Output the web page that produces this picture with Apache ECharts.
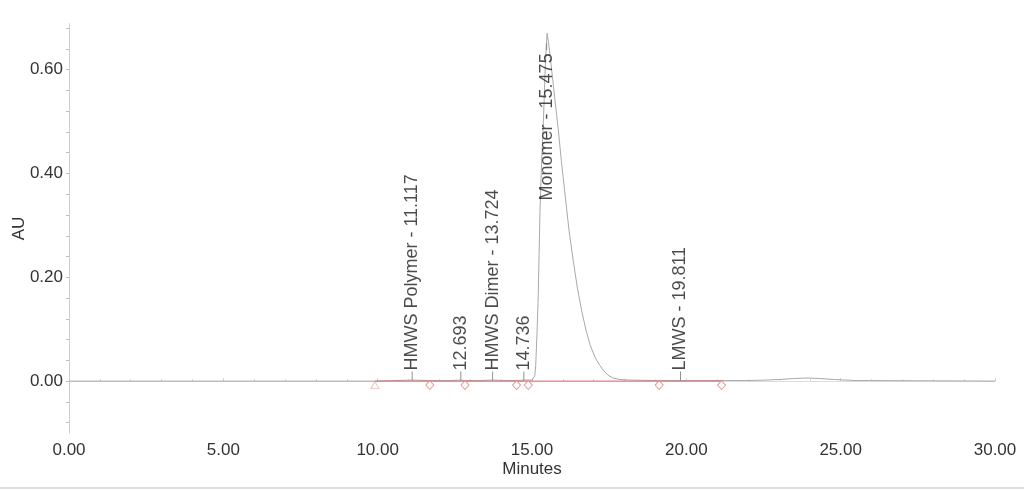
<!DOCTYPE html>
<html>
<head>
<meta charset="utf-8">
<script src="https://cdn.jsdelivr.net/npm/echarts@6/dist/echarts.min.js"></script>
<style>
html,body{margin:0;padding:0;background:#fff;}
#chart{width:1024px;height:490px;}
</style>
</head>
<body>
<div id="chart"></div>
<script>
// Chromatogram trace (minutes, AU)
const traceTimes = [0, 5, 9, 9.91, 10.5, 11.117, 11.69, 12.3, 12.693, 12.83, 13.3, 13.724, 14.2, 14.5, 14.736, 14.88, 15.0, 15.06, 15.09, 15.12, 15.16, 15.2, 15.26, 15.31, 15.37, 15.42, 15.46, 15.49, 15.53, 15.6, 15.7, 15.85, 15.95, 16.07, 16.2, 16.34, 16.47, 16.61, 16.75, 16.88, 17.05, 17.2, 17.31, 17.45, 17.62, 17.85, 18.2, 19.0, 20.0, 21.0, 22.0, 22.6, 23.0, 23.5, 23.9, 24.3, 24.8, 25.5, 26.0, 30.0];
const traceValues = [0, 0, 0, 0, 0.001, 0.002, 0.001, 0.001, 0.002, 0.001, 0.001, 0.002, 0.001, 0.001, 0.002, 0.002, 0.002, 0.004, 0.010, 0.030, 0.090, 0.160, 0.330, 0.420, 0.500, 0.590, 0.645, 0.670, 0.655, 0.620, 0.565, 0.485, 0.425, 0.360, 0.290, 0.230, 0.180, 0.135, 0.098, 0.070, 0.045, 0.030, 0.021, 0.012, 0.006, 0.003, 0.002, 0.001, 0.001, 0.001, 0.001, 0.002, 0.003, 0.005, 0.006, 0.005, 0.003, 0.001, 0.001, 0];

// Peak labels
const peakNames = ['HMWS Polymer', '', 'HMWS Dimer', '', 'Monomer', 'LMWS'];
const peakTimes = [11.117, 12.693, 13.724, 14.736, 15.475, 19.811];
const peakApex = [0.002, 0.002, 0.002, 0.002, 0.669, 0.001];

// Integration baseline marks
const baselineStart = [9.91];
const baselineMarks = [11.69, 12.83, 14.50, 14.88, 19.12, 21.14];

// Axis ticks
const yLabelValues = [0, 0.2, 0.4, 0.6];
const yTickValues = [-0.08, -0.04, 0, 0.04, 0.08, 0.12, 0.16, 0.2, 0.24, 0.28, 0.32, 0.36, 0.4, 0.44, 0.48, 0.52, 0.56, 0.6, 0.64, 0.68];

const FONT = 'Liberation Sans, Arial, sans-serif';
const trace = traceTimes.map((t, i) => [t, traceValues[i]]);
const fmtLabel = i => (peakNames[i] ? peakNames[i] + ' - ' : '') + peakTimes[i].toFixed(3);

const smallIdx = peakTimes.map((t, i) => i).filter(i => peakApex[i] < 0.1);
const bigIdx = peakTimes.map((t, i) => i).filter(i => peakApex[i] >= 0.1);

const chart = echarts.init(document.getElementById('chart'), null, {renderer: 'canvas'});
chart.setOption({
  animation: false,
  backgroundColor: '#fff',
  grid: {left: 69, right: 29, top: 24, bottom: 57, containLabel: false, outerBoundsMode: 'none'},
  xAxis: [{
    type: 'value', min: 0, max: 30, interval: 5,
    name: 'Minutes', nameLocation: 'middle', nameGap: 28, nameMoveOverlap: false,
    nameTextStyle: {fontFamily: FONT, fontSize: 17, color: '#333'},
    axisLine: {show: true, lineStyle: {color: '#ececec', width: 1}},
    axisTick: {show: true, inside: true, length: 3, lineStyle: {color: '#cfcfcf'}},
    minorTick: {show: true, splitNumber: 5, length: 2, lineStyle: {color: '#d8d8d8'}},
    splitLine: {show: false},
    axisLabel: {fontFamily: FONT, fontSize: 17, color: '#333', margin: 9, formatter: v => v.toFixed(2)}
  }, {
    type: 'value', min: 0, max: 30, position: 'top',
    axisLine: {show: true, lineStyle: {color: '#dddddd'}},
    axisTick: {show: false}, axisLabel: {show: false}, splitLine: {show: false}
  }],
  yAxis: [{
    type: 'value', min: -0.1, max: 0.688,
    name: 'AU', nameLocation: 'middle', nameGap: 41, nameRotate: 90, nameMoveOverlap: false,
    nameTextStyle: {fontFamily: FONT, fontSize: 17, color: '#333'},
    axisLine: {show: true, lineStyle: {color: '#c8c8c8'}},
    axisTick: {show: true, length: 3, customValues: yTickValues, lineStyle: {color: '#bdbdbd'}},
    splitLine: {show: false},
    axisLabel: {fontFamily: FONT, fontSize: 17, color: '#333', margin: 6, customValues: yLabelValues, formatter: v => v.toFixed(2)}
  }, {
    type: 'value', min: -0.1, max: 0.688, position: 'right',
    axisLine: {show: true, lineStyle: {color: '#cfcfcf'}},
    axisTick: {show: false}, axisLabel: {show: false}, splitLine: {show: false}
  }],
  series: [
    {
      type: 'line', data: trace, showSymbol: false, symbol: 'none',
      lineStyle: {color: '#a9a9a9', width: 1}, z: 2
    },
    {
      type: 'line', data: [[baselineStart[0], 0], [baselineMarks[baselineMarks.length - 1], 0]],
      showSymbol: false, symbol: 'none', lineStyle: {color: '#e06a6a', width: 1}, z: 3
    },
    {
      type: 'scatter', data: baselineMarks.map(t => [t, 0]),
      symbol: 'diamond', symbolSize: [8, 9], symbolOffset: [0, 4],
      itemStyle: {color: '#ffffff', borderColor: '#e58080', borderWidth: 1}, z: 4
    },
    {
      type: 'scatter', data: baselineStart.map(t => [t, 0]),
      symbol: 'triangle', symbolSize: [8, 7], symbolOffset: [0, 4],
      itemStyle: {color: '#ffffff', borderColor: '#e9b0b0', borderWidth: 1}, z: 4
    },
    {
      type: 'scatter', data: smallIdx.map(i => ({value: [peakTimes[i], 0], idx: i})),
      symbol: 'rect', symbolSize: [1, 9], symbolOffset: [0, -5],
      itemStyle: {color: '#777'}, z: 5,
      label: {
        show: true, position: 'top', distance: 1, rotate: 90, align: 'left', verticalAlign: 'middle',
        fontFamily: FONT, fontSize: 18, color: '#1e1e1e',
        formatter: p => fmtLabel(p.data.idx)
      }
    },
    {
      type: 'scatter', data: bigIdx.map(i => ({value: [peakTimes[i], peakApex[i]], idx: i})),
      symbol: 'rect', symbolSize: [1, 7], symbolOffset: [0, 13],
      itemStyle: {color: '#777'}, z: 5,
      label: {
        show: true, position: 'bottom', distance: 3, rotate: 90, align: 'right', verticalAlign: 'middle',
        fontFamily: FONT, fontSize: 18, color: '#1e1e1e',
        formatter: p => fmtLabel(p.data.idx)
      }
    }
  ],
  graphic: [{
    type: 'line', shape: {x1: 0, y1: 488, x2: 1024, y2: 488},
    style: {stroke: '#bdbdbd', lineWidth: 1}, silent: true
  }]
});
</script>
</body>
</html>
